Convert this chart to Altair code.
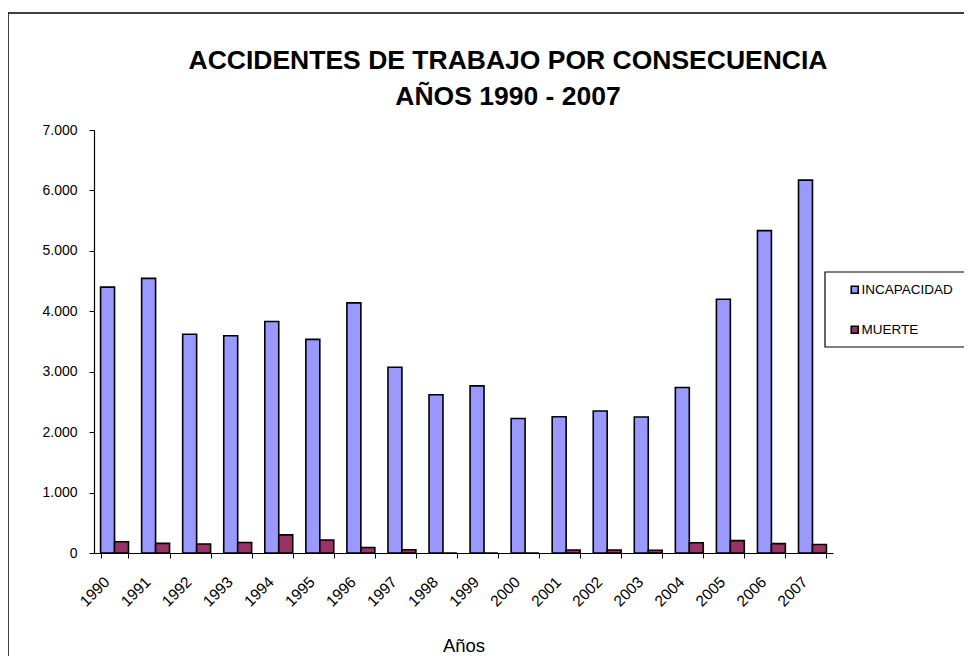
import altair as alt
import pandas as pd

years = ["1990", "1991", "1992", "1993", "1994", "1995", "1996", "1997", "1998",
         "1999", "2000", "2001", "2002", "2003", "2004", "2005", "2006", "2007"]
incapacidad = [4400, 4545, 3620, 3595, 3830, 3535, 4140, 3075, 2620,
               2765, 2225, 2255, 2350, 2250, 2740, 4200, 5335, 6170]
muerte = [185, 160, 150, 175, 300, 215, 90, 55, 0,
          0, 0, 50, 50, 45, 170, 205, 155, 140]
series = ["INCAPACIDAD", "MUERTE"]
colors = ["#9999FF", "#993366"]
title_lines = ["ACCIDENTES DE TRABAJO POR CONSECUENCIA", "AÑOS 1990 - 2007"]

rows = []
for i, y in enumerate(years):
    rows.append({"year": y, "serie": series[0], "value": incapacidad[i]})
    rows.append({"year": y, "serie": series[1], "value": muerte[i]})
df = pd.DataFrame(rows)

FONT = "Liberation Sans"

bars = alt.Chart(df).mark_bar(stroke="black", strokeWidth=1.6).encode(
    x=alt.X("year:N", sort=years,
            scale=alt.Scale(paddingInner=0.32, paddingOuter=0.16),
            axis=alt.Axis(title="Años", labelAngle=-45, labelAlign="right",
                          labelBaseline="middle", labelPadding=21, labelOffset=-8,
                          labelFontSize=15.5, labelFont=FONT, labelColor="black",
                          tickBand="extent", tickSize=5, titleFontSize=18.5,
                          titleFont=FONT, titleColor="black",
                          titleFontWeight="normal", titleY=98,
                          titleBaseline="alphabetic")),
    xOffset=alt.XOffset("serie:N", sort=series,
                        scale=alt.Scale(domain=series, paddingInner=0, paddingOuter=0)),
    y=alt.Y("value:Q", scale=alt.Scale(domain=[0, 7000], nice=False),
            axis=alt.Axis(title=None, values=[0, 1000, 2000, 3000, 4000, 5000, 6000, 7000],
                          labelExpr="replace(format(datum.value, ','), ',', '.')",
                          labelFontSize=14, labelFont=FONT, labelColor="black",
                          tickSize=5, labelPadding=12, grid=False)),
    color=alt.Color("serie:N", sort=series,
                    scale=alt.Scale(domain=series, range=colors),
                    legend=alt.Legend(title=None, orient="none", legendX=754, legendY=153,
                                      symbolType="square", symbolSize=49,
                                      symbolStrokeColor="black", symbolStrokeWidth=1.6,
                                      labelFontSize=13.5, labelFont=FONT, labelColor="black",
                                      labelOffset=0, rowPadding=25, padding=0)),
)

title1 = alt.Chart(alt.Data(values=[{"t": title_lines[0]}])).mark_text(
    font=FONT, fontSize=26.5, fontWeight="bold", color="black",
    align="center", baseline="alphabetic").encode(
    text="t:N", x=alt.value(414), y=alt.value(-61))

title2 = alt.Chart(alt.Data(values=[{"t": title_lines[1]}])).mark_text(
    font=FONT, fontSize=26.5, fontWeight="bold", color="black",
    align="center", baseline="alphabetic").encode(
    text="t:N", x=alt.value(414), y=alt.value(-25))

legend_box = alt.Chart(alt.Data(values=[{}])).mark_rect(
    fill=None, stroke="black", strokeWidth=1.2).encode(
    x=alt.value(731), x2=alt.value(900), y=alt.value(142), y2=alt.value(217))

frame = alt.Chart(alt.Data(values=[{}])).mark_rect(
    fill=None, stroke="black", strokeWidth=1.5).encode(
    x=alt.value(-86), x2=alt.value(900), y=alt.value(-117), y2=alt.value(700))

chart = alt.layer(frame, legend_box, title1, title2, bars).properties(
    width=739, height=423,
    autosize=alt.AutoSizeParams(type="none"),
    padding={"left": 86, "top": 122, "right": 131, "bottom": 103},
).configure_view(stroke=None).configure_axis(
    domainColor="black", tickColor="black", domainWidth=1.2,
)

chart.save("out.html", embed_options={"renderer": "svg", "actions": False})
